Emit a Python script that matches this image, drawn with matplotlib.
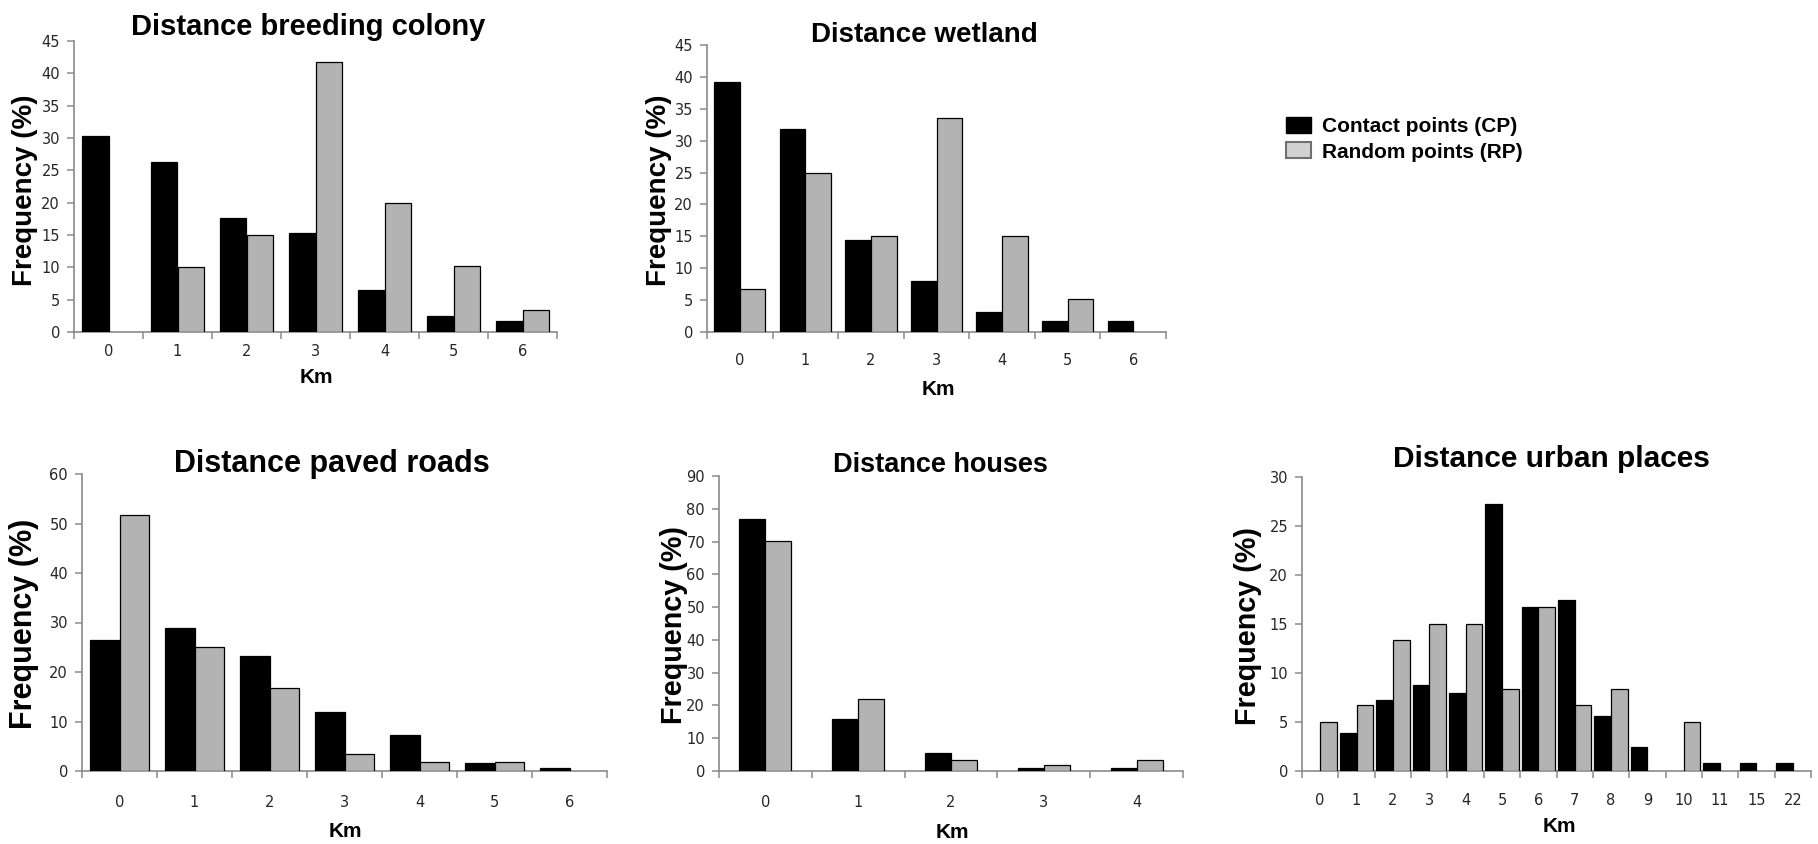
import numpy as np
import matplotlib
matplotlib.use("Agg")
import matplotlib.pyplot as plt
from matplotlib.patches import Patch

# ---------------- data ----------------
breeding_labels = ['0', '1', '2', '3', '4', '5', '6']
breeding_cp = [30.3, 26.3, 17.6, 15.3, 6.5, 2.4, 1.7]
breeding_rp = [0, 10.0, 15.0, 41.8, 20.0, 10.2, 3.4]

wetland_labels = ['0', '1', '2', '3', '4', '5', '6']
wetland_cp = [39.2, 31.9, 14.4, 8.0, 3.1, 1.7, 1.7]
wetland_rp = [6.8, 25.0, 15.0, 33.5, 15.0, 5.2, 0]

roads_labels = ['0', '1', '2', '3', '4', '5', '6']
roads_cp = [26.4, 28.9, 23.3, 11.9, 7.2, 1.6, 0.7]
roads_rp = [51.8, 25.1, 16.8, 3.4, 1.8, 1.8, 0]

houses_labels = ['0', '1', '2', '3', '4']
houses_cp = [76.8, 16.0, 5.6, 1.0, 1.0]
houses_rp = [70.2, 22.0, 3.3, 1.8, 3.3]

urban_labels = ['0', '1', '2', '3', '4', '5', '6', '7', '8', '9', '10', '11', '15', '22']
urban_cp = [0, 3.9, 7.2, 8.8, 8.0, 27.2, 16.7, 17.5, 5.6, 2.4, 0, 0.8, 0.8, 0.8]
urban_rp = [5.0, 6.7, 13.4, 15.0, 15.0, 8.4, 16.7, 6.7, 8.4, 0, 5.0, 0, 0, 0]

series_names = ['Contact points (CP)', 'Random points (RP)']

# ---------------- style ----------------
W, H = 1818, 844
DPI = 100
fig = plt.figure(figsize=(W / DPI, H / DPI), dpi=DPI)
fig.patch.set_facecolor('white')

SPINE = '#8a8a8a'
TICKC = '#262626'
GRAY = '#b3b3b3'
BOLD = 'Liberation Sans'


def px_ax(left, right, bottom, top):
    return fig.add_axes([left / W, 1 - bottom / H, (right - left) / W, (bottom - top) / H])


def panel(box, labels, cp, rp, width, ymax, ystep, title, tsize, tx, ty,
          ylab_xy, ylab_size, km_xy, xpad):
    ax = px_ax(*box)
    x = np.arange(len(labels))
    cp = np.asarray(cp, float)
    rp = np.asarray(rp, float)
    m1 = cp > 0
    m2 = rp > 0
    ax.bar(x[m1] - width / 2, cp[m1], width, color='black', edgecolor='black', linewidth=0.9, zorder=3)
    ax.bar(x[m2] + width / 2, rp[m2], width, color=GRAY, edgecolor='black', linewidth=0.9, zorder=3)
    ax.set_xlim(-0.5, len(labels) - 0.5)
    ax.set_ylim(0, ymax)
    ax.set_yticks(np.arange(0, ymax + 0.1, ystep))
    ax.set_xticks(x)
    ax.set_xticklabels(labels)
    ax.set_xticks(np.arange(-0.5, len(labels), 1.0), minor=True)
    for s in ['top', 'right']:
        ax.spines[s].set_visible(False)
    for s in ['left', 'bottom']:
        ax.spines[s].set_color(SPINE)
        ax.spines[s].set_linewidth(1.2)
    ax.tick_params(axis='x', which='major', length=0, pad=xpad, labelsize=10.5, labelcolor=TICKC)
    ax.tick_params(axis='x', which='minor', length=5, width=1.1, color=SPINE, direction='out')
    ax.tick_params(axis='y', which='major', length=5, width=1.1, color=SPINE, direction='out',
                   pad=5, labelsize=10.5, labelcolor=TICKC)
    ax.set_facecolor('none')
    fig.text(tx / W, 1 - ty / H, title, ha='center', va='baseline', fontsize=tsize,
             fontweight='bold', family=BOLD)
    fig.text(ylab_xy[0] / W, 1 - ylab_xy[1] / H, 'Frequency (%)', rotation=90, ha='center',
             va='center', fontsize=ylab_size, fontweight='bold', family=BOLD)
    fig.text(km_xy[0] / W, 1 - km_xy[1] / H, 'Km', ha='center', va='baseline', fontsize=15,
             fontweight='bold', family=BOLD)
    return ax


panel((74, 557, 332, 41), breeding_labels, breeding_cp, breeding_rp, 0.39, 45, 5,
      'Distance breeding colony', 21, 308, 35, (25, 190), 20, (316, 383), 9)
panel((707, 1166, 332, 45), wetland_labels, wetland_cp, wetland_rp, 0.39, 45, 5,
      'Distance wetland', 20, 924, 42, (659, 190), 20, (938, 395), 15)
panel((82, 607, 771, 474), roads_labels, roads_cp, roads_rp, 0.39, 60, 10,
      'Distance paved roads', 22, 332, 472, (24, 624), 22, (345, 837), 17)
panel((719, 1183, 771, 476), houses_labels, houses_cp, houses_rp, 0.28, 90, 10,
      'Distance houses', 19.5, 940, 472, (674, 625), 20.7, (952, 838), 17)
panel((1302, 1811, 771, 477), urban_labels, urban_cp, urban_rp, 0.46, 30, 5,
      'Distance urban places', 21.5, 1551, 467, (1248, 626), 20.7, (1559, 832), 16)

handles = [Patch(facecolor='black', edgecolor='black', linewidth=1.0),
           Patch(facecolor='#d2d2d2', edgecolor='#707070', linewidth=1.5)]
fig.legend(handles, series_names, loc='upper left',
           bbox_to_anchor=(1286 / W, 1 - 117 / H), frameon=False,
           prop={'family': BOLD, 'weight': 'bold', 'size': 15},
           handlelength=1.2, handleheight=0.8, handletextpad=0.55,
           labelspacing=0.3, borderpad=0, borderaxespad=0)

fig.savefig('out.png', dpi=DPI, facecolor='white')
